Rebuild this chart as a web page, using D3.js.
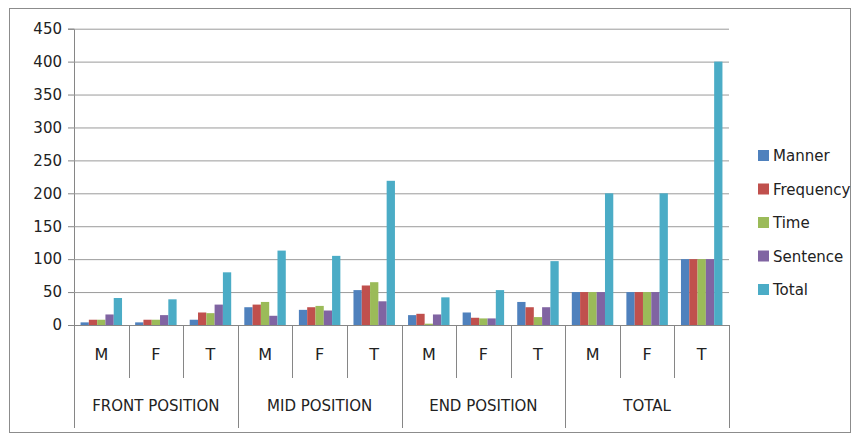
<!DOCTYPE html>
<html>
<head>
<meta charset="utf-8">
<script src="https://cdn.jsdelivr.net/npm/d3@7"></script>
<style>
body{margin:0;background:#fff;}
svg{display:block;font-family:"DejaVu Sans",sans-serif;}
</style>
</head>
<body>
<svg id="chart" width="860" height="434"></svg>
<script>
// categories (sub labels) and their groups
var subLabels = ["M","F","T","M","F","T","M","F","T","M","F","T"];
var groups = ["FRONT POSITION","MID POSITION","END POSITION","TOTAL"];
var seriesNames = ["Manner","Frequency","Time","Sentence","Total"];
var seriesColors = ["#4F81BD","#C0504D","#9BBB59","#8064A2","#4BACC6"];

var manner    = [4, 4, 8, 27, 23, 53, 15, 19, 35, 50, 50, 100];
var frequency = [8, 8, 19, 31, 27, 60, 17, 11, 27, 50, 50, 100];
var time      = [8, 8, 18, 35, 29, 65, 2, 10, 12, 50, 50, 100];
var sentence  = [16, 15, 31, 14, 22, 36, 16, 10, 27, 50, 50, 100];
var total     = [41, 39, 80, 113, 105, 219, 42, 53, 97, 200, 200, 400];
var yTicks = [0,50,100,150,200,250,300,350,400,450];

var seriesValues = [manner, frequency, time, sentence, total];

var svg = d3.select("#chart");
var plotL = 74, plotR = 729, plotT = 28.7, plotB = 325;

// outer frame
svg.append("rect").attr("x",9.5).attr("y",8.5).attr("width",841).attr("height",424)
  .attr("fill","#fff").attr("stroke","#8c8c8c").attr("stroke-width",1);

var idx = d3.range(subLabels.length);
var x0 = d3.scaleBand().domain(idx).range([plotL,plotR]);
var x1 = d3.scaleBand().domain(seriesNames).range([0,x0.bandwidth()]).paddingOuter(0.79);
var y = d3.scaleLinear().domain([0,450]).range([plotB,plotT]);

// gridlines + y axis
var yAxis = d3.axisLeft(y).tickValues(yTicks).tickSize(6).tickPadding(6);
var gy = svg.append("g").attr("transform","translate("+plotL+",0)").call(yAxis);
gy.select(".domain").attr("stroke","#868686");
gy.selectAll(".tick line").attr("stroke","#868686");
gy.selectAll(".tick text").attr("font-size","15px").attr("fill","#222")
  .attr("font-family","DejaVu Sans, sans-serif");
gy.selectAll(".tick").filter(function(d){return d>0;}).append("line")
  .attr("x1",0).attr("x2",plotR-plotL)
  .attr("stroke","#9a9a9a").attr("stroke-width",1);

// bars
var rows = idx.map(function(i){
  return seriesNames.map(function(s,j){ return {i:i, s:s, v:seriesValues[j][i], c:seriesColors[j]}; });
});
svg.append("g").selectAll("g").data(rows).enter().append("g")
  .attr("transform",function(d,i){return "translate("+x0(i)+",0)";})
  .selectAll("rect").data(function(d){return d;}).enter().append("rect")
  .attr("x",function(d){return x1(d.s);})
  .attr("width",x1.bandwidth())
  .attr("y",function(d){return y(d.v);})
  .attr("height",function(d){return plotB-y(d.v);})
  .attr("fill",function(d){return d.c;});

// category axis
var gx = svg.append("g");
gx.append("line").attr("x1",plotL).attr("x2",plotR).attr("y1",plotB+0.5).attr("y2",plotB+0.5)
  .attr("stroke","#868686");
d3.range(subLabels.length+1).forEach(function(k){
  var xx = Math.round(plotL + k*x0.bandwidth())+0.5;
  var longLine = (k % 3 === 0);
  gx.append("line").attr("x1",xx).attr("x2",xx).attr("y1",plotB)
    .attr("y2", longLine ? 428 : 378).attr("stroke","#868686");
});
gx.selectAll("text.sub").data(subLabels).enter().append("text")
  .attr("class","sub")
  .attr("x",function(d,i){return x0(i)+x0.bandwidth()/2;})
  .attr("y",360).attr("text-anchor","middle")
  .attr("font-size","16px").attr("fill","#222").text(function(d){return d;});
gx.selectAll("text.grp").data(groups).enter().append("text")
  .attr("class","grp")
  .attr("x",function(d,i){return x0(i*3)+x0.bandwidth()*1.5;})
  .attr("y",411).attr("text-anchor","middle")
  .attr("font-size","15px").attr("fill","#222").text(function(d){return d;});

// legend
var lg = svg.append("g").selectAll("g").data(seriesNames).enter().append("g")
  .attr("transform",function(d,i){return "translate(758,"+(155.5+i*33.5)+")";});
lg.append("rect").attr("x",0).attr("y",-5.5).attr("width",11).attr("height",11)
  .attr("fill",function(d,i){return seriesColors[i];});
lg.append("text").attr("x",15).attr("y",5.5).attr("font-size","15px").attr("fill","#222")
  .text(function(d){return d;});
</script>
</body>
</html>
